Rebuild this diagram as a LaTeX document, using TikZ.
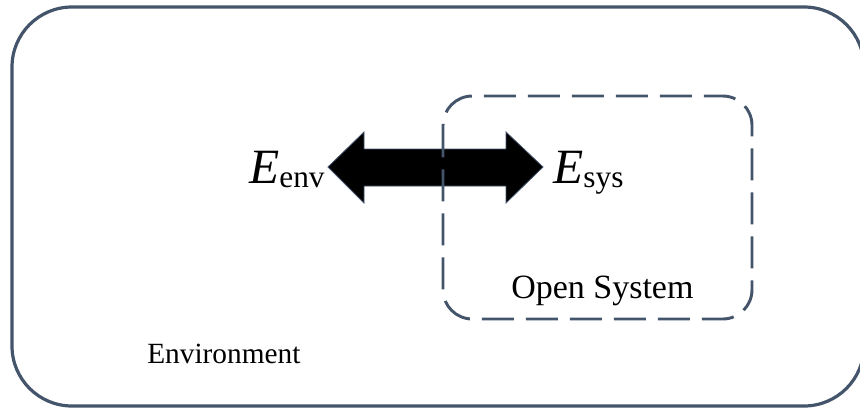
\documentclass[tikz,border=0pt]{standalone}
\usepackage{fontspec}
\setmainfont{Liberation Serif}
\usetikzlibrary{positioning}
\definecolor{slate}{HTML}{44546A}
\tikzset{
	envbox/.style={draw=slate, line width=2.4pt, rounded corners=45pt},
	sysbox/.style={draw=slate, line width=2.2pt, rounded corners=22pt,
		dash pattern=on 24pt off 9pt},
	bigarrow/.style={fill=black, draw=slate, line width=0.6pt, line join=miter},
	energy/.style={inner sep=0pt, anchor=base west},
	boxlabel/.style={inner sep=0pt, anchor=base west},
}
\newcommand{\energylabel}[1]{{\fontsize{37}{40}\selectfont\itshape E}\raisebox{-3.5pt}{\fontsize{23.5}{28}\selectfont #1}}

\begin{document}
\begin{tikzpicture}[x=0.75pt, y=-0.75pt]
	\useasboundingbox (0,0) rectangle (860,408);
	\draw[envbox] (12,7) rectangle (864,406);
	% energy exchange
	\coordinate (tipL) at (328,167);
	\coordinate (tipR) at (543,167);
	\filldraw[bigarrow] (tipL) -- ++(36,-35) -- ++(0,17) -- ++(142,0) -- ++(0,-17)
		-- (tipR) -- ++(-37,36) -- ++(0,-17) -- ++(-142,0) -- ++(0,17) -- cycle;
	\draw[sysbox] (443,96) rectangle (752,319);
	\node[energy] (env) at (249,183) {\energylabel{env}};
	\node[energy] (sys) at (553,183) {\energylabel{sys}};
	\node[boxlabel, font=\fontsize{25.5}{30}\selectfont] (open) at (511,298) {Open System};
	\node[boxlabel, font=\fontsize{22}{26}\selectfont] (world) at (147,363) {Environment};
\end{tikzpicture}
\end{document}
